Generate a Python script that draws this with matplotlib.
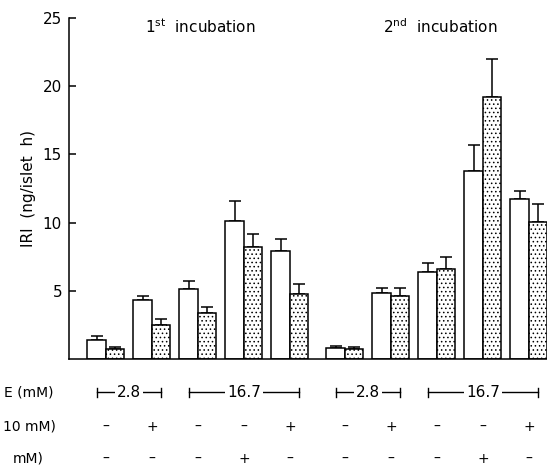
import numpy as np
import matplotlib.pyplot as plt

# IRI (ng/islet h), open bars and dotted bars, 1st then 2nd incubation
open_vals = [1.4, 4.3, 5.1, 10.1, 7.9, 0.8, 4.85, 6.4, 13.8, 11.7]
open_err = [0.3, 0.3, 0.6, 1.5, 0.9, 0.15, 0.35, 0.65, 1.9, 0.6]
dot_vals = [0.7, 2.5, 3.4, 8.2, 4.8, 0.7, 4.6, 6.6, 19.2, 10.05]
dot_err = [0.2, 0.4, 0.4, 1.0, 0.7, 0.15, 0.6, 0.9, 2.8, 1.35]

row2 = ['–', '+', '–', '–', '+'] * 2
row3 = ['–', '–', '–', '+', '–'] * 2
conc_labels = ['2.8', '16.7', '2.8', '16.7']
conc_spans = [(0, 1), (2, 4), (5, 6), (7, 9)]
row_names = ['E (mM)', '10 mM)', 'mM)']
yticks = [5, 10, 15, 20, 25]

plt.rcParams['font.family'] = 'DejaVu Sans'
plt.rcParams['hatch.linewidth'] = 0.6

fig = plt.figure(figsize=(5.47, 4.66), dpi=100)
ax = fig.add_axes([69 / 547, 1 - 359 / 466, 1 - 69 / 547, (359 - 18) / 466])

w = 18.5
centers = np.r_[np.arange(5) * 46 + 106, np.arange(5) * 46 + 345]
xo = centers - w / 2
xd = centers + w / 2

ax.bar(xo, open_vals, w, color='white', edgecolor='black', linewidth=1.1, zorder=2)
ax.bar(xd, dot_vals, w, color='white', edgecolor='black', hatch='....',
       linewidth=1.1, zorder=2)
ax.errorbar(xo, open_vals, yerr=[np.zeros(10), open_err], fmt='none',
            ecolor='black', elinewidth=1.1, capsize=4, capthick=1.1, zorder=1)
ax.errorbar(xd, dot_vals, yerr=[np.zeros(10), dot_err], fmt='none',
            ecolor='black', elinewidth=1.1, capsize=4, capthick=1.1, zorder=1)

ax.set_xlim(69, 547)
ax.set_ylim(0, 25)
ax.set_yticks(yticks)
ax.set_xticks([])
ax.tick_params(axis='y', direction='in', length=5, width=1.1, pad=5, labelsize=11)
for s in ['top', 'right']:
    ax.spines[s].set_visible(False)
for s in ['left', 'bottom']:
    ax.spines[s].set_linewidth(1.1)
ax.set_ylabel('IRI  (ng/islet  h)', fontsize=11, labelpad=5)

ax.text(200, 24.4, r'1$^{\rm st}$  incubation', ha='center', va='center', fontsize=11)
ax.text(440, 24.4, r'2$^{\rm nd}$  incubation', ha='center', va='center', fontsize=11)

# concentration brackets and +/- rows below the axis
y1, y2, y3 = -2.45, -4.95, -7.3
for lab, (a, b) in zip(conc_labels, conc_spans):
    x0, x1 = xo[a], xd[b]
    ax.plot([x0, x1], [y1, y1], color='black', lw=1, clip_on=False)
    ax.plot([x0, x0], [y1 - 0.3, y1 + 0.3], color='black', lw=1, clip_on=False)
    ax.plot([x1, x1], [y1 - 0.3, y1 + 0.3], color='black', lw=1, clip_on=False)
    ax.text((x0 + x1) / 2, y1, lab, ha='center', va='center', fontsize=11,
            bbox=dict(facecolor='white', edgecolor='none', pad=1.5), clip_on=False)
for c, s2, s3 in zip(centers, row2, row3):
    ax.text(c, y2, s2, ha='center', va='center', fontsize=10, clip_on=False)
    ax.text(c, y3, s3, ha='center', va='center', fontsize=10, clip_on=False)

for lab, ypx, xr in zip(row_names, [392, 426, 459], [54, 56, 44]):
    fig.text(xr / 547, 1 - ypx / 466, lab, ha='right', va='center', fontsize=10)

fig.savefig('out.png', dpi=100)
